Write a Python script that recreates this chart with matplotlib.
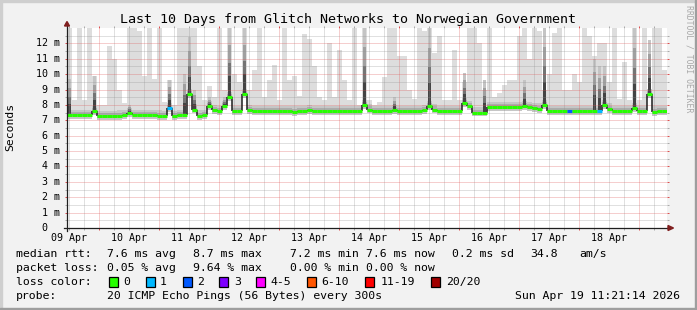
import numpy as np
import matplotlib
matplotlib.use("Agg")
import matplotlib.pyplot as plt
from matplotlib.patches import Rectangle, Polygon
from matplotlib.transforms import blended_transform_factory

# ---- data (ms), one value per 2 hour bin, 10 days ----
smoke_max = [13, 8.3, 13, 8.3, 13, 9.9, 8.0, 8.0, 11.8, 11.0,
             9.0, 8.1, 13, 13, 12.8, 9.9, 13, 9.7, 13, 8.2,
             9.6, 8.0, 13, 13, 13, 13, 10.5, 8.3, 9.2, 8.5,
             13, 9.0, 13, 10.0, 9.5, 13, 9.0, 10.3, 13, 8.5,
             9.6, 10.6, 8.3, 13, 9.6, 9.9, 8.6, 12.6, 12.3, 10.5,
             8.5, 8.3, 12.0, 8.5, 11.6, 9.6, 8.3, 13, 8.0, 13,
             8.3, 8.0, 8.2, 9.8, 13, 13, 11.2, 11.2, 9.0, 8.4,
             13, 12.8, 13, 11.4, 12.5, 8.3, 8.3, 11.6, 8.3, 9.5,
             13, 13, 12.0, 9.0, 13, 8.5, 8.8, 9.3, 9.6, 9.6,
             12.5, 13, 11.0, 13, 12.8, 9.0, 10.0, 12.7, 13, 9.0,
             9.0, 10.0, 9.5, 13, 12.5, 11.2, 12.0, 12.0, 9.5, 13,
             8.4, 10.8, 8.3, 13, 8.3, 13, 9.0, 13, 13, 10.3]

median = [7.35, 7.35, 7.35, 7.35, 7.35, 7.6, 7.25, 7.25, 7.25, 7.25,
          7.3, 7.35, 7.45, 7.35, 7.35, 7.35, 7.35, 7.35, 7.3, 7.25,
          7.8, 7.25, 7.35, 7.35, 8.7, 7.7, 7.3, 7.35, 7.9, 7.65,
          7.6, 7.9, 8.5, 7.6, 7.6, 8.7, 7.65, 7.6, 7.6, 7.6,
          7.6, 7.6, 7.6, 7.6, 7.6, 7.55, 7.6, 7.6, 7.65, 7.6,
          7.6, 7.6, 7.6, 7.6, 7.6, 7.6, 7.6, 7.6, 7.6, 8.0,
          7.7, 7.6, 7.6, 7.6, 7.6, 7.65, 7.6, 7.6, 7.6, 7.6,
          7.6, 7.65, 7.9, 7.7, 7.6, 7.6, 7.6, 7.6, 7.6, 8.1,
          7.9, 7.5, 7.5, 7.5, 7.85, 7.85, 7.85, 7.85, 7.85, 7.85,
          7.85, 7.9, 7.85, 7.8, 7.75, 8.0, 7.6, 7.6, 7.6, 7.6,
          7.6, 7.6, 7.6, 7.6, 7.6, 7.6, 7.6, 8.0, 7.75, 7.6,
          7.6, 7.6, 7.6, 7.8, 7.6, 7.6, 8.7, 7.55, 7.6, 7.6]

# bins where the dense (dark) smoke rises above the median
spike_idx = [0, 5, 12, 20, 23, 24, 25, 28, 31, 32, 35, 59, 65, 72, 79, 83, 91, 95, 105, 106, 107, 113, 116]
spike_top = [9.7, 9.9, 8.0, 9.6, 10.0, 12.4, 9.0, 8.5, 8.5, 13, 13, 13, 8.5, 13, 10.1, 9.6, 9.6, 13, 11.0, 10.5, 10.5, 13, 12.2]

# bins with packet loss (index into loss colours)
loss_idx = [20, 100, 106]
loss_val = [1, 2, 1]

loss_labels = ["0", "1", "2", "3", "4-5", "6-10", "11-19", "20/20"]
loss_colors = ["#26ff00", "#00b8ff", "#0059ff", "#7e00ff", "#ff00ff", "#ff5500", "#ff0000", "#a10000"]

day_labels = ["09 Apr", "10 Apr", "11 Apr", "12 Apr", "13 Apr",
              "14 Apr", "15 Apr", "16 Apr", "17 Apr", "18 Apr"]
y_values = list(range(0, 13))
y_labels = ["0  "] + ["%d m" % v for v in range(1, 13)]

title = "Last 10 Days from Glitch Networks to Norwegian Government"

legend_rtt = [(16, "median rtt:"), (107.3, "7.6 ms avg"), (193.3, "8.7 ms max"),
              (290, "7.2 ms min"), (366, "7.6 ms now"), (451.7, "0.2 ms sd"),
              (530, "34.8"), (579.3, "am/s")]
legend_loss = [(16, "packet loss:"), (107.3, "0.05 % avg"), (193.3, "9.64 % max"),
               (290, "0.00 % min"), (366, "0.00 % now")]
box_x = [108.7, 145.7, 182.7, 219.3, 256.3, 307.3, 365.3, 430.7]
box_label_x = [123.3, 160, 196.7, 234, 270.7, 321.7, 380.7, 445.7]
probe_text = "20 ICMP Echo Pings (56 Bytes) every 300s"
stamp = "Sun Apr 19 11:21:14 2026"

# ---- layout ----
W, H = 697, 310
mono = "DejaVu Sans Mono"
fig = plt.figure(figsize=(W / 100, H / 100), dpi=100, facecolor="#f2f2f2")


def fx(px):
    return px / W


def fy(py):
    return 1 - py / H


ax = fig.add_axes([fx(67), fy(228), fx(600), 200 / H])
ax.set_facecolor("white")
ax.set_xlim(0, 10)
ax.set_ylim(0, 13)

n = len(median)
bin_w = 10 / n
x0 = np.arange(n) * bin_w
med = np.array(median)
top = np.array(smoke_max)

# light smoke (min..max)
ax.bar(x0, top - (med - 0.25), bottom=med - 0.25, width=bin_w, align="edge",
       color="#dddddd", linewidth=0, zorder=1)
# denser smoke around the median
ax.bar(x0, 0.6, bottom=med - 0.25, width=bin_w, align="edge",
       color="#c6c6c6", linewidth=0, zorder=1.1)
ax.bar(x0, 0.3, bottom=med - 0.1, width=bin_w, align="edge",
       color="#acacac", linewidth=0, zorder=1.2)

# dark smoke at spikes
s_idx = np.array(spike_idx)
s_top = np.array(spike_top)
s_med = med[s_idx]
for frac, col in [(1.0, "#c4c4c4"), (0.75, "#a0a0a0"), (0.5, "#747474"), (0.3, "#444444")]:
    h = (s_top - s_med) * frac
    ax.bar(x0[s_idx] + bin_w * 0.15, h, bottom=s_med, width=bin_w * 0.7, align="edge",
           color=col, linewidth=0, zorder=1.3)

# median line coloured by loss
loss = np.zeros(n, dtype=int)
loss[loss_idx] = loss_val
ax.vlines(x0[1:], med[:-1], med[1:], colors="#1e1e1e", linewidth=1.1, zorder=3)
ax.hlines(med, x0, x0 + bin_w, colors=[loss_colors[k] for k in loss],
          linewidth=2.2, zorder=4)

# grid: start is 19 Apr 11:21:14 minus 10 days
midnight0 = (24 - (11 + 21 / 60 + 14 / 3600)) / 24
noon0 = midnight0 - 0.5
major_x = midnight0 + np.arange(10)
minor_x = noon0 + 0.25 * np.arange(0, 40)
ax.set_xticks(major_x)
ax.set_xticks(minor_x, minor=True)
ax.set_yticks(np.arange(1, 13))
ax.set_yticks(np.arange(0.5, 13, 1), minor=True)
ax.grid(True, which="major", color="#de4f4f", alpha=0.55, linestyle=(0, (1, 1)), linewidth=0.72)
ax.grid(True, which="minor", color="#8f8f8f", alpha=0.55, linestyle=(0, (1, 1)), linewidth=0.72)
ax.set_axisbelow(False)
ax.tick_params(which="major", direction="out", length=1.5, width=0.72, color="#de4f4f",
               top=True, right=True, labelleft=False, labelbottom=False)
ax.tick_params(which="minor", direction="out", length=1.5, width=0.72, color="#aaaaaa",
               top=True, right=True)
for s in ax.spines.values():
    s.set_visible(False)

# axes with arrows
ax.plot([0, 0], [-3 / 200, 1 + 2 / 200], transform=ax.transAxes, color="#1f1f1f",
        linewidth=0.9, clip_on=False, zorder=5)
ax.plot([-3 / 600, 1 + 1 / 600], [0, 0], transform=ax.transAxes, color="#1f1f1f",
        linewidth=0.9, clip_on=False, zorder=5)
ax.add_patch(Polygon([(-2.5 / 600, 1 + 2 / 200), (2.5 / 600, 1 + 2 / 200), (0, 1 + 6.5 / 200)],
                     closed=True, transform=ax.transAxes, color="#801f1f", clip_on=False, zorder=6))
ax.add_patch(Polygon([(1 + 1 / 600, 2.5 / 200), (1 + 1 / 600, -2.5 / 200), (1 + 6.5 / 600, 0)],
                     closed=True, transform=ax.transAxes, color="#801f1f", clip_on=False, zorder=6))

# tick labels
ty = blended_transform_factory(ax.transAxes, ax.transData)
for v, lab in zip(y_values, y_labels):
    ax.text(-7 / 600, v, lab, transform=ty, ha="right", va="center",
            fontsize=7.2, family=mono)
tx = blended_transform_factory(ax.transData, ax.transAxes)
for k, lab in enumerate(day_labels):
    ax.text(noon0 + k, -9.7 / 200, lab, transform=tx, ha="center", va="center",
            fontsize=7.2, family=mono)

# titles
fig.text(fx(348), fy(19), title, ha="center", va="center", fontsize=9.6, family=mono)
fig.text(fx(10), fy(127), "Seconds", rotation=90, ha="center", va="center",
         fontsize=8.2, family=mono)
fig.text(fx(688.5), fy(59), "RRDTOOL / TOBI OETIKER", rotation=270, ha="center",
         va="center", fontsize=5.9, family=mono, color="#a8a8a8")

# legend
fs = 8.25
for px, s in legend_rtt:
    fig.text(fx(px), fy(254.3), s, ha="left", va="center", fontsize=fs, family=mono)
for px, s in legend_loss:
    fig.text(fx(px), fy(268.3), s, ha="left", va="center", fontsize=fs, family=mono)
fig.text(fx(16), fy(282), "loss color:", ha="left", va="center", fontsize=fs, family=mono)
for bx, lx, col, lab in zip(box_x, box_label_x, loss_colors, loss_labels):
    fig.patches.append(Rectangle((fx(bx), fy(286.5)), fx(9), 10 / H, transform=fig.transFigure,
                                 facecolor=col, edgecolor="black", linewidth=0.9))
    fig.text(fx(lx), fy(282), lab, ha="left", va="center", fontsize=fs, family=mono)
fig.text(fx(16), fy(296.3), "probe:", ha="left", va="center", fontsize=fs, family=mono)
fig.text(fx(107.3), fy(296.3), probe_text, ha="left", va="center", fontsize=fs, family=mono)
fig.text(fx(680), fy(296.3), stamp, ha="right", va="center", fontsize=fs, family=mono)

# 3d frame
fig.patches.append(Rectangle((0, 1 - 2 / H), 1, 2 / H, transform=fig.transFigure, color="#cfcfcf"))
fig.patches.append(Rectangle((0, 0), 2 / W, 1, transform=fig.transFigure, color="#cfcfcf"))
fig.patches.append(Rectangle((0, 0), 1, 2 / H, transform=fig.transFigure, color="#9e9e9e"))
fig.patches.append(Rectangle((1 - 2 / W, 0), 2 / W, 1, transform=fig.transFigure, color="#9e9e9e"))

fig.savefig("out.png", dpi=100, facecolor=fig.get_facecolor())
